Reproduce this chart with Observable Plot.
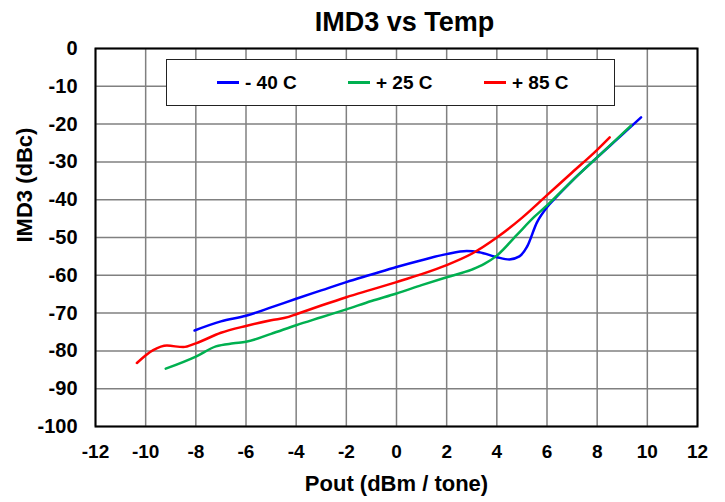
<!DOCTYPE html>
<html>
<head>
<meta charset="utf-8">
<script src="https://cdn.jsdelivr.net/npm/d3@7"></script>
<script src="https://cdn.jsdelivr.net/npm/@observablehq/plot@0.6"></script>
<style>
  html, body { margin: 0; padding: 0; background: #fff; }
  #wrap { position: relative; width: 725px; height: 502px; font-family: 'Liberation Sans', Arial, sans-serif; font-weight: bold; }
  #legend { position: absolute; left: 166px; top: 59px; width: 449px; height: 47px; border: 1px solid #222; background: #fff; box-sizing: border-box; }
  .item { position: absolute; top: 0; height: 100%; display: flex; align-items: center; font-size: 19px; color: #000; white-space: pre; }
  .swatch { display: inline-block; width: 22px; height: 2.5px; margin-right: 6px; }
</style>
</head>
<body>
<div id="wrap"></div>
<script>
// ---- data ----
const titleText = "IMD3 vs Temp";
const xLabel = "Pout (dBm / tone)";
const yLabel = "IMD3 (dBc)";
const series = ["- 40 C", "+ 25 C", "+ 85 C"];
const colors = ["#0000FF", "#00B050", "#FF0000"];
const xTicks = [-12, -10, -8, -6, -4, -2, 0, 2, 4, 6, 8, 10, 12];
const yTicks = [0, -10, -20, -30, -40, -50, -60, -70, -80, -90, -100];

const m40x = [-8.05, -7, -6, -5, -4, -3, -2, -1, 0, 1, 2, 2.8, 3.3, 4, 4.5, 4.9, 5.2, 5.6, 6.0, 6.3, 7, 8, 9, 9.75];
const m40y = [-74.6, -72.2, -70.7, -68.5, -66.2, -64.0, -61.8, -59.8, -57.8, -56.0, -54.4, -53.6, -53.9, -55.2, -55.8, -55.0, -52.5, -46.0, -42.0, -39.8, -35.0, -28.8, -22.8, -18.2];

const p25x = [-9.2, -8, -7.2, -6.5, -6, -5, -4, -3, -2, -1, 0, 1, 2, 3, 3.5, 4, 4.8, 5.5, 6, 7, 8, 9, 9.35];
const p25y = [-84.7, -81.5, -78.8, -78.0, -77.6, -75.5, -73.2, -71.1, -69.0, -66.8, -64.8, -62.6, -60.5, -58.5, -57.0, -54.8, -49.3, -44.5, -41.5, -35.0, -28.8, -22.6, -20.4];

const p85x = [-10.35, -9.7, -9.15, -8.5, -8, -7, -6, -5, -4.3, -4, -3, -2, -1, 0, 1, 2, 3, 4, 5, 6, 7, 8, 8.5];
const p85y = [-83.2, -79.8, -78.6, -79.0, -78.0, -75.2, -73.4, -71.9, -71.0, -70.3, -68.0, -65.8, -63.8, -61.8, -59.7, -57.3, -54.3, -50.0, -44.8, -38.8, -32.8, -26.8, -23.5];

// ---- build rows ----
const seriesX = [m40x, p25x, p85x];
const seriesY = [m40y, p25y, p85y];
const rows = [];
series.forEach((s, i) => seriesX[i].forEach((x, j) => rows.push({series: s, x, y: seriesY[i][j]})));

const fmt = d => `${d}`;

const chart = Plot.plot({
  width: 725,
  height: 502,
  marginTop: 48,
  marginBottom: 76,
  marginLeft: 95,
  marginRight: 28,
  style: {fontFamily: "'Liberation Sans', Arial, sans-serif", fontWeight: "bold", background: "white", color: "black"},
  x: {domain: [-12, 12]},
  y: {domain: [-100, 0]},
  color: {domain: series, range: colors},
  marks: [
    Plot.gridX(xTicks, {stroke: "#808080", strokeOpacity: 1, strokeWidth: 1.5}),
    Plot.gridY(yTicks, {stroke: "#808080", strokeOpacity: 1, strokeWidth: 1.5}),
    Plot.axisX(xTicks, {tickSize: 0, tickPadding: 18, fontSize: 19, tickFormat: fmt, label: null}),
    Plot.axisY(yTicks, {tickSize: 0, tickPadding: 18, fontSize: 20, tickFormat: fmt, label: null}),
    Plot.line(rows, {x: "x", y: "y", z: "series", stroke: "series", strokeWidth: 2.5, curve: "monotone-x"}),
    Plot.frame({stroke: "black", strokeWidth: 2}),
    Plot.text([titleText], {frameAnchor: "top", lineAnchor: "middle", dy: -26, dx: 8, fontSize: 27, fontWeight: "bold"}),
    Plot.text([xLabel], {frameAnchor: "bottom", lineAnchor: "middle", dy: 57, fontSize: 22, fontWeight: "bold"}),
    Plot.text([yLabel], {frameAnchor: "left", lineAnchor: "middle", dx: -71, dy: 5, rotate: -90, fontSize: 22, fontWeight: "bold"})
  ]
});

const wrap = document.getElementById("wrap");
wrap.appendChild(chart);

// legend overlay
const legend = document.createElement("div");
legend.id = "legend";
const offsets = [50, 181, 317];
series.forEach((s, i) => {
  const it = document.createElement("div");
  it.className = "item";
  it.style.left = offsets[i] + "px";
  const sw = document.createElement("span");
  sw.className = "swatch";
  sw.style.background = colors[i];
  it.appendChild(sw);
  it.appendChild(document.createTextNode(s));
  legend.appendChild(it);
});
wrap.appendChild(legend);
</script>
</body>
</html>
